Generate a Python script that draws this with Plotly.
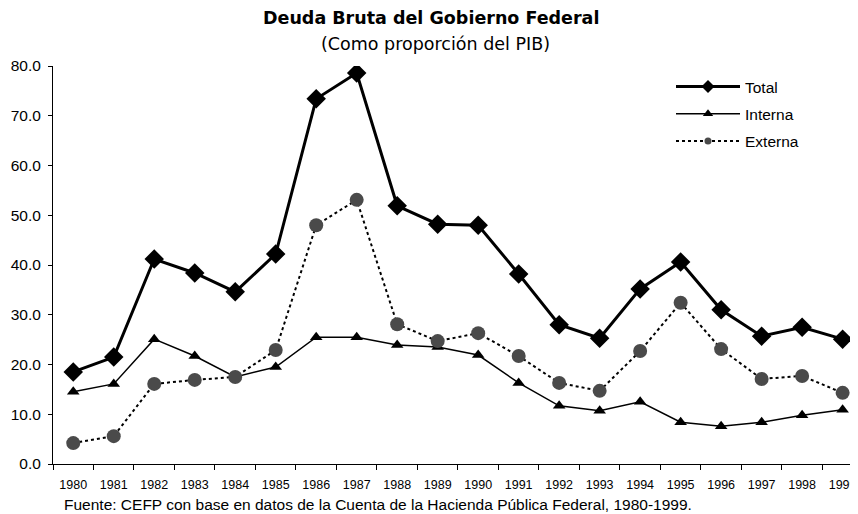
import plotly.graph_objects as go

years = [str(y) for y in range(1980, 2000)]
total = [18.5, 21.5, 41.2, 38.4, 34.6, 42.2, 73.4, 78.6, 51.9, 48.2,
         48.0, 38.2, 28.0, 25.3, 35.2, 40.6, 31.0, 25.7, 27.5, 25.1]
interna = [14.5, 16.1, 25.1, 21.7, 17.5, 19.5, 25.5, 25.5, 23.9, 23.5,
           21.9, 16.3, 11.7, 10.7, 12.5, 8.4, 7.6, 8.4, 9.8, 10.9]
externa = [4.2, 5.6, 16.1, 16.9, 17.5, 22.9, 48.0, 53.1, 28.1, 24.7,
           26.3, 21.7, 16.3, 14.7, 22.7, 32.4, 23.1, 17.1, 17.7, 14.3]
series_names = ["Total", "Interna", "Externa"]
y_ticks = [0, 10, 20, 30, 40, 50, 60, 70, 80]

styles = {
    "Total": dict(line=dict(color="black", width=3),
                  marker=dict(symbol="diamond", size=15, color="black"),
                  legend_marker=dict(symbol="diamond", size=10, color="black")),
    "Interna": dict(line=dict(color="black", width=1.5),
                    marker=dict(symbol="triangle-up", size=11, color="black"),
                    legend_marker=dict(symbol="triangle-up", size=9, color="black")),
    "Externa": dict(line=dict(color="black", width=2, dash="dot"),
                    marker=dict(symbol="circle", size=14, color="#4a4a4a"),
                    legend_marker=dict(symbol="circle", size=7, color="#4a4a4a")),
}

fig = go.Figure()
for name, vals in zip(series_names, [total, interna, externa]):
    st = styles[name]
    fig.add_trace(go.Scatter(x=years, y=vals, name=name, mode="lines+markers",
                             line=st["line"], marker=st["marker"], showlegend=False))
for name in series_names:
    st = styles[name]
    fig.add_trace(go.Scatter(x=[None], y=[None], name=name, mode="lines+markers",
                             legendgroup=name, line=st["line"],
                             marker=st["legend_marker"], showlegend=True))

font = "Liberation Sans, Arial, sans-serif"
# The page body adds an 8px offset; figure is sized so its right/bottom edges meet the window.
W, H = 850, 506
L, T, B = 45, 58, 50
OFF = 8
pw = W - L
ph = H - T - B

def px(sx):
    return (sx - OFF - L) / pw

def py(sy):
    return (H - B - (sy - OFF)) / ph

fig.update_layout(
    width=W, height=H,
    margin=dict(l=L, r=0, t=T, b=B, autoexpand=False),
    paper_bgcolor="white", plot_bgcolor="white",
    font=dict(family=font, color="black", size=13),
    showlegend=True,
    legend=dict(x=px(671), y=py(70), xanchor="left", yanchor="top",
                bgcolor="rgba(0,0,0,0)", font=dict(size=15.5), itemwidth=64,
                tracegroupgap=4),
    xaxis=dict(type="category", range=[-0.5, 19.38], showline=True,
               linecolor="black", linewidth=1, ticks="outside", tickson="boundaries",
               ticklen=5, tickcolor="black", showgrid=False, zeroline=False,
               ticklabelstandoff=9,
               tickfont=dict(size=12.5), automargin=False),
    yaxis=dict(range=[0, 80], tickvals=y_ticks,
               ticktext=[f"{v:.1f}" for v in y_ticks], showline=True,
               linecolor="black", linewidth=1, ticks="outside", ticklen=4,
               ticklabelstandoff=4,
               tickcolor="black", showgrid=False, zeroline=False,
               tickfont=dict(size=15.5), automargin=False),
    annotations=[
        dict(text="<b>Deuda Bruta del Gobierno Federal</b>", x=px(431), y=py(18),
             xref="paper", yref="paper", showarrow=False, xanchor="center", yanchor="middle",
             font=dict(size=17.5, family="DejaVu Sans, sans-serif")),
        dict(text="(Como proporción del PIB)", x=px(435), y=py(44),
             xref="paper", yref="paper", showarrow=False, xanchor="center", yanchor="middle",
             font=dict(size=17.5, family="DejaVu Sans, sans-serif")),
        dict(text="Fuente: CEFP con base en datos de la Cuenta de la Hacienda Pública Federal, 1980-1999.",
             x=px(62), y=py(504), xref="paper", yref="paper", showarrow=False,
             xanchor="left", yanchor="middle", font=dict(size=15.5)),
    ],
)
fig.write_html("out.html")
